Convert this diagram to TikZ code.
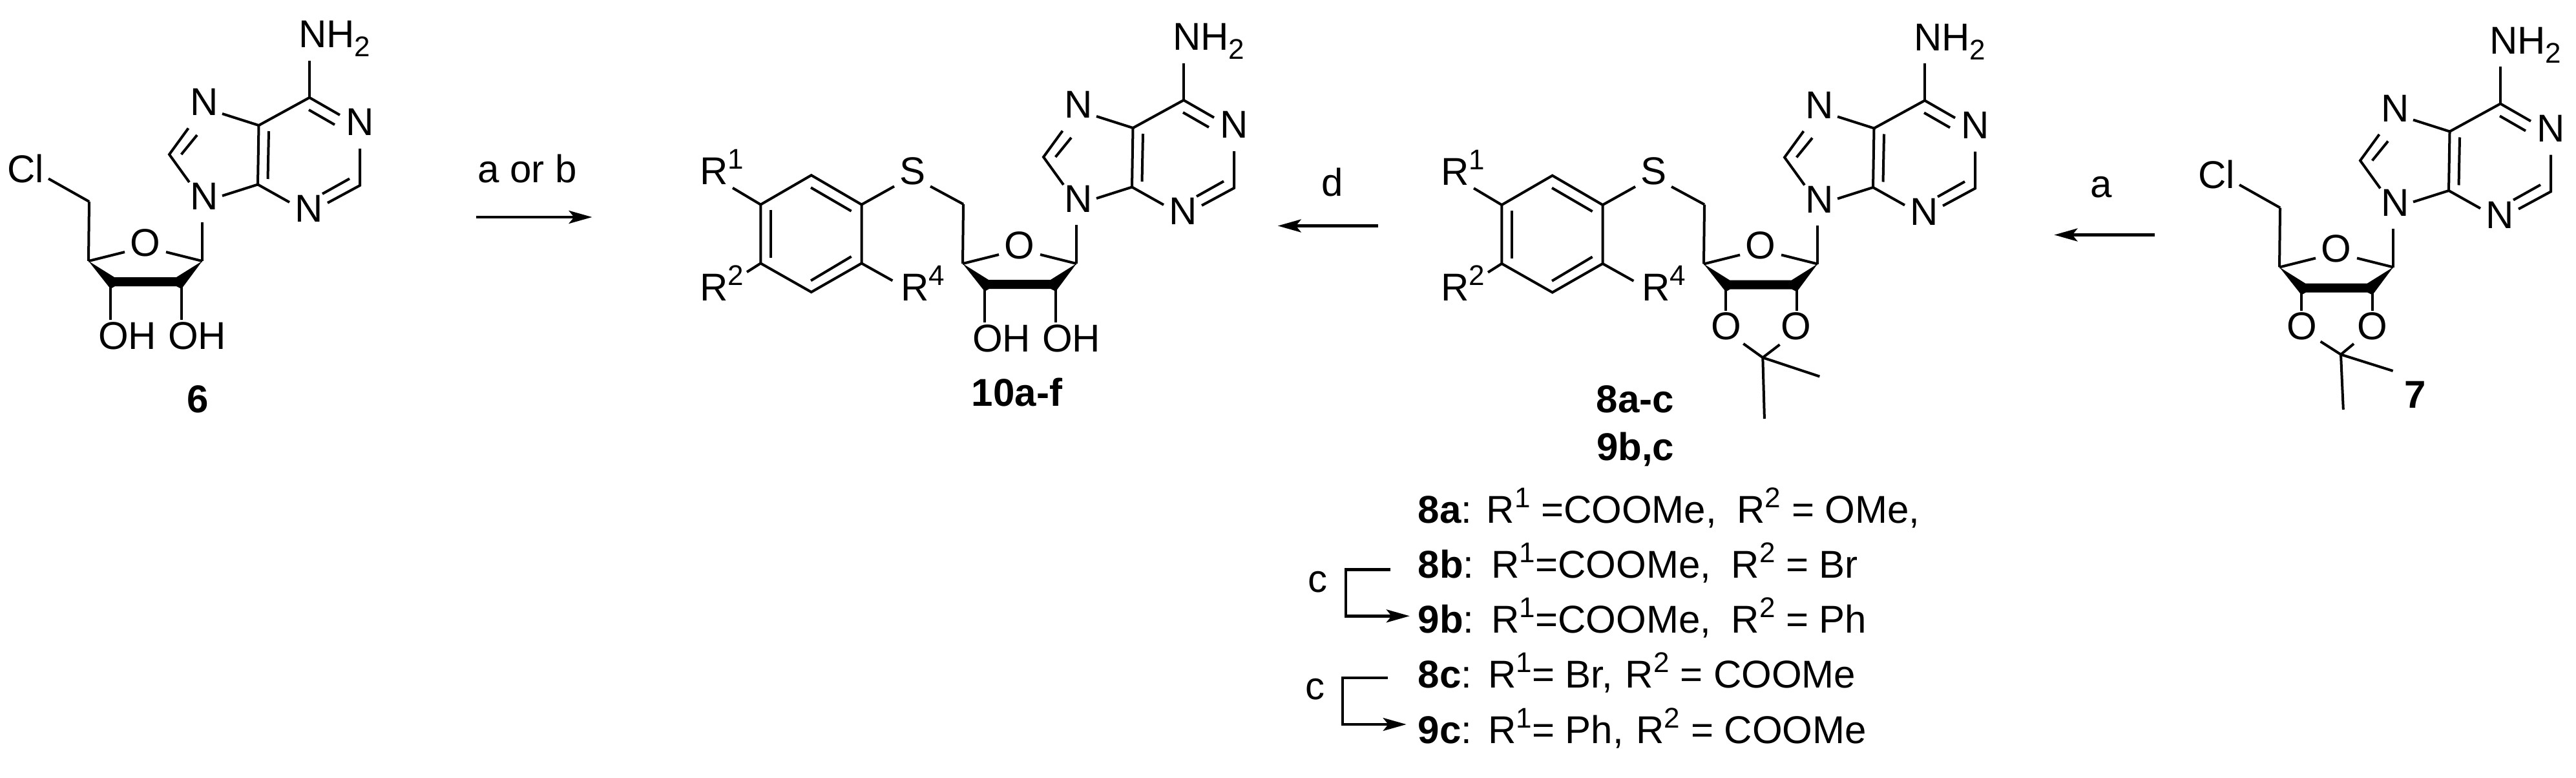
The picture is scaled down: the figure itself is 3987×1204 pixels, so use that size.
\documentclass[tikz,border=0pt]{standalone}
\usepackage{fontspec}
\setmainfont{Liberation Sans}
\usetikzlibrary{arrows.meta}
\newcommand{\Rs}[1]{R\raisebox{24pt}{\fontsize{44}{44}\selectfont #1}}
\tikzset{
  bond/.style={line width=4pt},
  atom/.style={inner sep=0pt,font=\fontsize{60}{72}\selectfont},
  grp/.style={inner sep=0pt,anchor=base west,font=\fontsize{60}{72}\selectfont},
  lab/.style={inner sep=0pt,anchor=base,font=\fontsize{60}{72}\selectfont},
  cmpd/.style={inner sep=0pt,anchor=base,font=\fontsize{60}{72}\selectfont\bfseries},
  listline/.style={inner sep=0pt,anchor=base west,font=\fontsize{60}{72}\selectfont},
  rxn/.style={line width=4.4pt,-{Stealth[length=36pt,width=20pt,inset=8pt]}}
}
% adenine + ribofuranose ring; coordinates are pixels of the reference, local to the molecule
\newcommand{\nucleoside}[3]{%
\begin{scope}[shift={(#2,#3)}]
  \node[grp] (#1nh) at (462,74) {NH\raisebox{-14pt}{\fontsize{44}{44}\selectfont 2}};
  \node[atom] (#1n1) at (557,189) {N};
  \node[atom] (#1n3) at (478,323) {N};
  \node[atom] (#1n7) at (316,158) {N};
  \node[atom] (#1n9) at (316,304) {N};
  \node[atom] (#1o) at (225,375.5) {O};
  \draw[bond] (479,94) -- (479,151);
  \draw[bond,line join=miter] (344,176) -- (400.5,194) -- (479,151) -- (526,178);
  \draw[bond] (478,170) -- (518,193);
  \draw[bond] (557,230) -- (557,287) -- (507,314);
  \draw[bond] (541,276.5) -- (499,300);
  \draw[bond] (400.5,194) -- (399,285.5);
  \draw[bond] (416,203) -- (414.5,277);
  \draw[bond] (344,303) -- (399,285.5) -- (448,313);
  \draw[bond] (291.5,198.5) -- (262,239) -- (293,282);
  \draw[bond] (305,209) -- (280.6,239);
  \draw[bond] (313,344) -- (313,404);
  \draw[bond] (193,390) -- (137,404);
  \draw[bond] (257,390) -- (313,404);
  \draw[bond] (137,404) -- (138,312);
  \fill (137,404) -- (177,429) -- (273,429) -- (313,404) -- (281,447) -- (273,443) -- (178,443) -- (171,447) -- cycle;
\end{scope}}
% free 2',3'-diol
\newcommand{\diol}[3]{%
\begin{scope}[shift={(#2,#3)}]
  \draw[bond] (171,442) -- (171,495);
  \draw[bond] (280.6,442) -- (280.6,495);
  \node[grp] (#1oha) at (152,540.5) {OH};
  \node[grp] (#1ohb) at (260,540.5) {OH};
\end{scope}}
% S-aryl group on C5'
\newcommand{\thioaryl}[3]{%
\begin{scope}[shift={(#2,#3)}]
  \node[atom] (#1s) at (59,260.5) {S};
  \node[grp] (#1ra) at (-270,281.6) {\Rs{1}};
  \node[grp] (#1rb) at (-270,461) {\Rs{2}};
  \node[grp] (#1rd) at (41,461) {\Rs{4}};
  \draw[bond] (138,312) -- (87,284.4);
  \draw[bond] (31,284.4) -- (-19.5,312.6);
  \draw[bond,line join=miter] (-19.5,312.6) -- (-97.3,267.2) -- (-175.7,312.6) -- (-175.7,403.5) -- (-97.3,448) -- (-19.5,403.5) -- cycle;
  \draw[bond] (-98,286.3) -- (-35.4,322.7);
  \draw[bond] (-159.8,321.3) -- (-159.8,395.4);
  \draw[bond] (-98,430.3) -- (-35.4,393);
  \draw[bond] (-219,286.8) -- (-175.7,312.6);
  \draw[bond] (-197,417) -- (-175.7,403.5);
  \draw[bond] (28.4,430.3) -- (-19.5,403.5);
\end{scope}}
\begin{document}
\begin{tikzpicture}[x=1pt,y=-1pt]
\useasboundingbox (0,0) rectangle (3987,1204);

% 6
\nucleoside{a}{0}{0}
\diol{a}{0}{0}
\node[grp] (acl) at (11,282) {Cl};
\draw[bond] (138,312) -- (75,276.5);
\node[cmpd] (six) at (306,638.6) {6};

% 10a-f
\nucleoside{b}{1353}{4}
\diol{b}{1353}{4}
\thioaryl{b}{1353}{4}
\node[cmpd] (ten) at (1574,628) {10a-f};

% 8a-c / 9b,c
\nucleoside{c}{2500}{4.5}
\thioaryl{c}{2500}{4.5}
\node[atom] (co1) at (2671.6,504.6) {O};
\node[atom] (co2) at (2779.3,504.6) {O};
\draw[bond] (2671,447) -- (2671,480.7);
\draw[bond] (2780.6,447) -- (2780.6,480.7);
\draw[bond] (2698.3,531.9) -- (2728.3,553.4) -- (2754.5,533.3);
\draw[bond] (2816.3,582.6) -- (2728.3,553.4) -- (2730.9,648);
\node[cmpd] (eight) at (2531,638.6) {8a-c};
\node[cmpd] (nine) at (2531,712.7) {9b,c};

% 7
\nucleoside{d}{3391}{9.5}
\node[grp] (dcl) at (3402,291.5) {Cl};
\draw[bond] (3529,321.5) -- (3466,286);
\node[atom] (do1) at (3563.2,504.6) {O};
\node[atom] (do2) at (3671.5,504.6) {O};
\draw[bond] (3562,452) -- (3562,480.7);
\draw[bond] (3671.6,452) -- (3671.6,480.7);
\draw[bond] (3591.6,528.5) -- (3623,548.6) -- (3643,532);
\draw[bond] (3703.6,574) -- (3623,548.6) -- (3626.8,633.8);
\node[cmpd] (seven) at (3738,631.4) {7};

% reaction arrows
\coordinate (r1s) at (736.6,336);
\coordinate (r1e) at (916.5,336);
\draw[rxn] (r1s) -- (r1e);
\node[lab] (r1l) at (816,282) {a or b};
\coordinate (r2s) at (2132.6,349.5);
\coordinate (r2e) at (1977.7,349.5);
\draw[rxn] (r2s) -- (r2e);
\node[lab] (r2l) at (2062,303.7) {d};
\coordinate (r3s) at (3334.8,363.5);
\coordinate (r3e) at (3179.4,363.5);
\draw[rxn] (r3s) -- (r3e);
\node[lab] (r3l) at (3251.7,305) {a};

% substituent list
\node[listline] (l1) at (2194.5,809) {\textbf{8a}: \Rs{1} =COOMe,\hspace{15pt} \Rs{2} = OMe,};
\node[listline] (l2) at (2194.5,894.5) {\textbf{8b}:\hspace{5pt} \Rs{1}=COOMe,\hspace{15pt} \Rs{2} = Br};
\node[listline] (l3) at (2194.5,979.6) {\textbf{9b}:\hspace{5pt} \Rs{1}=COOMe,\hspace{15pt} \Rs{2} = Ph};
\node[listline] (l4) at (2194.5,1064.8) {\textbf{8c}:\hspace{3pt} \Rs{1}= Br,\hspace{3pt} \Rs{2} = COOMe};
\node[listline] (l5) at (2194.5,1150) {\textbf{9c}:\hspace{3pt} \Rs{1}= Ph,\hspace{3pt} \Rs{2} = COOMe};

% c brackets
\coordinate (b1s) at (2151.8,881.6);
\coordinate (b1c) at (2083,881.6);
\coordinate (b1d) at (2083,953.3);
\coordinate (b1e) at (2181.8,953.3);
\draw[rxn,line join=miter] (b1s) -- (b1c) -- (b1d) -- (b1e);
\node[lab] (b1l) at (2039.5,916) {c};
\coordinate (b2s) at (2148,1048.8);
\coordinate (b2c) at (2077.8,1048.8);
\coordinate (b2d) at (2077.8,1121);
\coordinate (b2e) at (2176.7,1121);
\draw[rxn,line join=miter] (b2s) -- (b2c) -- (b2d) -- (b2e);
\node[lab] (b2l) at (2035,1082.5) {c};
\end{tikzpicture}
\end{document}
